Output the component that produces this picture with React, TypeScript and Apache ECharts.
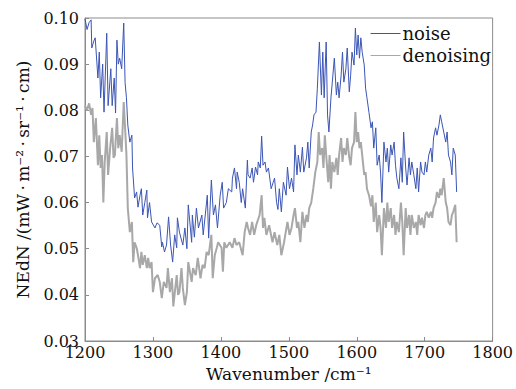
import React, { useEffect, useRef } from "react";
import * as echarts from "echarts";

const noiseX = [1200,1203,1206,1209,1210,1213,1215,1219,1221,1223,1226,1228,1232,1234,1238,1240,1243,1245,1247,1249,1251,1254,1257,1259,1261,1263,1266,1269,1270,1273,1276,1278,1281,1283,1285,1288,1291,1292,1295,1298,1303,1306,1310,1313,1314,1317,1320,1323,1326,1329,1332,1335,1336,1339,1344,1347,1350,1352,1357,1358,1361,1364,1367,1372,1374,1377,1380,1382,1386,1389,1392,1395,1399,1402,1404,1408,1411,1416,1417,1420,1423,1424,1427,1430,1432,1436,1439,1440,1443,1446,1448,1451,1454,1455,1458,1460,1462,1465,1467,1470,1474,1477,1479,1482,1484,1486,1489,1492,1496,1498,1501,1504,1507,1509,1512,1514,1517,1520,1522,1526,1528,1530,1533,1535,1537,1540,1542,1545,1548,1550,1552,1555,1557,1559,1562,1564,1567,1570,1572,1574,1577,1579,1581,1584,1586,1589,1591,1593,1596,1598,1600,1602,1604,1606,1608,1611,1613,1615,1618,1621,1623,1625,1628,1630,1633,1635,1637,1640,1643,1645,1647,1650,1652,1655,1657,1659,1662,1665,1667,1669,1672,1674,1677,1679,1681,1684,1687,1689,1691,1694,1696,1699,1701,1703,1706,1709,1711,1713,1716,1718,1721,1723,1725,1728,1731,1733,1735,1738,1740,1742,1745,1747];
const noiseY = [0.0998,0.0975,0.0990,0.0996,0.0935,0.0950,0.0957,0.0870,0.0926,0.0827,0.0900,0.0796,0.0967,0.0810,0.0890,0.0810,0.0870,0.0794,0.0952,0.0900,0.0913,0.0890,0.0989,0.0860,0.0827,0.0768,0.0731,0.0746,0.0675,0.0610,0.0623,0.0590,0.0616,0.0630,0.0573,0.0600,0.0627,0.0567,0.0600,0.0558,0.0545,0.0556,0.0551,0.0504,0.0514,0.0493,0.0508,0.0569,0.0508,0.0471,0.0530,0.0502,0.0567,0.0536,0.0508,0.0545,0.0500,0.0595,0.0514,0.0573,0.0525,0.0588,0.0545,0.0573,0.0530,0.0573,0.0616,0.0523,0.0649,0.0573,0.0595,0.0545,0.0616,0.0644,0.0588,0.0600,0.0630,0.0623,0.0653,0.0675,0.0630,0.0666,0.0644,0.0600,0.0630,0.0588,0.0692,0.0660,0.0653,0.0675,0.0644,0.0677,0.0660,0.0688,0.0675,0.0744,0.0681,0.0688,0.0666,0.0675,0.0630,0.0644,0.0653,0.0600,0.0585,0.0630,0.0580,0.0644,0.0616,0.0677,0.0630,0.0653,0.0623,0.0725,0.0660,0.0703,0.0666,0.0720,0.0666,0.0697,0.0731,0.0675,0.0753,0.0768,0.0790,0.0796,0.0848,0.0948,0.0833,0.0926,0.0827,0.0948,0.0790,0.0753,0.0827,0.0861,0.0913,0.0833,0.0861,0.0827,0.0876,0.0926,0.0861,0.0890,0.0935,0.0840,0.0876,0.0926,0.0898,0.0978,0.0920,0.0963,0.0913,0.0957,0.0926,0.0898,0.0848,0.0827,0.0795,0.0762,0.0775,0.0718,0.0762,0.0681,0.0703,0.0666,0.0600,0.0731,0.0688,0.0718,0.0666,0.0725,0.0703,0.0731,0.0681,0.0653,0.0630,0.0697,0.0644,0.0753,0.0675,0.0638,0.0697,0.0660,0.0688,0.0660,0.0630,0.0675,0.0623,0.0688,0.0666,0.0660,0.0688,0.0666,0.0703,0.0718,0.0688,0.0740,0.0762,0.0746,0.0768,0.0790,0.0775,0.0753,0.0731,0.0753,0.0703,0.0688,0.0660,0.0718,0.0703,0.0623];

const denoX = [1200,1203,1206,1209,1211,1213,1216,1219,1221,1223,1225,1227,1229,1232,1234,1237,1240,1242,1244,1247,1249,1251,1254,1257,1259,1261,1263,1266,1269,1271,1273,1276,1278,1281,1283,1285,1288,1291,1293,1295,1298,1300,1303,1307,1310,1313,1316,1320,1322,1325,1328,1330,1335,1337,1339,1342,1344,1347,1350,1352,1357,1359,1363,1366,1370,1373,1376,1379,1382,1386,1388,1391,1394,1396,1401,1403,1405,1408,1413,1417,1420,1423,1427,1432,1435,1438,1440,1443,1446,1449,1452,1457,1460,1462,1464,1467,1471,1476,1479,1483,1486,1489,1493,1498,1501,1504,1507,1509,1512,1514,1517,1520,1523,1526,1528,1530,1533,1536,1539,1542,1544,1546,1549,1551,1553,1555,1558,1560,1562,1564,1567,1570,1572,1574,1577,1579,1581,1584,1586,1589,1591,1593,1596,1598,1600,1602,1604,1606,1608,1611,1613,1615,1618,1621,1623,1625,1628,1630,1633,1635,1637,1640,1643,1645,1647,1650,1652,1655,1657,1659,1662,1665,1667,1669,1672,1674,1677,1679,1681,1684,1687,1689,1691,1694,1696,1699,1701,1703,1706,1709,1711,1713,1716,1718,1721,1723,1725,1728,1731,1733,1735,1738,1740,1742,1745,1747];
const denoY = [0.0810,0.0800,0.0815,0.0790,0.0805,0.0731,0.0783,0.0681,0.0746,0.0675,0.0703,0.0600,0.0688,0.0753,0.0660,0.0718,0.0762,0.0697,0.0703,0.0783,0.0718,0.0746,0.0710,0.0818,0.0762,0.0703,0.0588,0.0536,0.0558,0.0471,0.0514,0.0502,0.0486,0.0458,0.0493,0.0465,0.0486,0.0458,0.0480,0.0458,0.0471,0.0406,0.0436,0.0443,0.0428,0.0393,0.0428,0.0415,0.0458,0.0406,0.0436,0.0375,0.0443,0.0400,0.0406,0.0458,0.0415,0.0378,0.0406,0.0471,0.0428,0.0458,0.0443,0.0480,0.0436,0.0465,0.0458,0.0493,0.0486,0.0530,0.0436,0.0486,0.0502,0.0514,0.0502,0.0450,0.0514,0.0502,0.0514,0.0502,0.0523,0.0508,0.0514,0.0486,0.0536,0.0558,0.0545,0.0530,0.0558,0.0530,0.0551,0.0573,0.0616,0.0545,0.0567,0.0530,0.0551,0.0514,0.0536,0.0508,0.0530,0.0486,0.0514,0.0558,0.0530,0.0545,0.0573,0.0588,0.0545,0.0558,0.0514,0.0580,0.0545,0.0573,0.0558,0.0588,0.0600,0.0630,0.0666,0.0688,0.0753,0.0703,0.0718,0.0675,0.0746,0.0703,0.0644,0.0703,0.0630,0.0688,0.0666,0.0697,0.0660,0.0703,0.0740,0.0688,0.0718,0.0703,0.0740,0.0697,0.0681,0.0718,0.0731,0.0796,0.0731,0.0753,0.0718,0.0731,0.0703,0.0660,0.0666,0.0630,0.0616,0.0592,0.0616,0.0558,0.0600,0.0536,0.0573,0.0545,0.0486,0.0588,0.0545,0.0600,0.0558,0.0588,0.0545,0.0573,0.0530,0.0558,0.0536,0.0600,0.0558,0.0486,0.0588,0.0545,0.0573,0.0530,0.0573,0.0545,0.0558,0.0530,0.0573,0.0551,0.0567,0.0545,0.0573,0.0580,0.0567,0.0580,0.0567,0.0588,0.0600,0.0623,0.0610,0.0630,0.0616,0.0653,0.0600,0.0588,0.0558,0.0551,0.0573,0.0580,0.0595,0.0514];

const xTicks = [1200, 1300, 1400, 1500, 1600, 1700, 1800];
const yTicks = [0.03, 0.04, 0.05, 0.06, 0.07, 0.08, 0.09, 0.10];

const FONT = "DejaVu Serif";
const FRAME = "#8c8c8c";

export default function App() {
  const ref = useRef<HTMLDivElement>(null);
  useEffect(() => {
    if (!ref.current) return;
    document.body.style.margin = "0";
    const chart = echarts.init(ref.current, undefined, { renderer: "svg" });
    const noise = noiseX.map((x, i) => [x, noiseY[i]]);
    const deno = denoX.map((x, i) => [x, denoY[i]]);
    chart.setOption({
      animation: false,
      backgroundColor: "#ffffff",
      textStyle: { fontFamily: FONT },
      grid: {
        left: 85,
        right: 22,
        top: 18,
        bottom: 48,
        show: true,
        borderColor: FRAME,
        borderWidth: 1,
        backgroundColor: "transparent",
      },
      legend: {
        orient: "vertical",
        right: 25,
        top: 23,
        padding: 0,
        itemWidth: 30,
        itemHeight: 14,
        itemGap: 1,
        icon: "path://M0,7 L30,7 L30,8 L0,8 Z",
        textStyle: {
          fontFamily: FONT,
          fontSize: 18,
          lineHeight: 21,
          color: "#111",
          padding: [0, 0, 0, -3],
        },
        data: [
          { name: "noise", itemStyle: { color: "#3b55b5" } },
          { name: "denoising", itemStyle: { color: "#a8a8a8" } },
        ],
      },
      xAxis: {
        type: "value",
        min: xTicks[0],
        max: xTicks[xTicks.length - 1],
        interval: 100,
        name: "Wavenumber /cm\u207B\u00B9",
        nameLocation: "middle",
        nameGap: 24,
        nameTextStyle: { fontFamily: FONT, fontSize: 17, color: "#111", verticalAlign: "top" },
        axisLine: { show: true, lineStyle: { color: FRAME, width: 1 } },
        axisTick: { show: true, inside: true, length: 4, lineStyle: { color: FRAME } },
        axisLabel: {
          fontFamily: FONT,
          fontSize: 16,
          color: "#111",
          margin: 3,
          formatter: (v: number) => String(v),
        },
        splitLine: { show: false },
      },
      yAxis: {
        type: "value",
        min: yTicks[0],
        max: yTicks[yTicks.length - 1],
        interval: 0.01,
        name: "NEdN /(mW\u2009\u00B7\u2009m\u207B\u00B2\u2009\u00B7\u2009sr\u207B\u00B9\u2009\u00B7\u2009cm)",
        nameLocation: "middle",
        nameGap: 62,
        nameRotate: 90,
        nameTextStyle: { fontFamily: FONT, fontSize: 17, color: "#111", verticalAlign: "middle" },
        axisLine: { show: true, lineStyle: { color: FRAME, width: 1 } },
        axisTick: { show: true, inside: true, length: 4, lineStyle: { color: FRAME } },
        axisLabel: {
          fontFamily: FONT,
          fontSize: 16,
          color: "#111",
          margin: 6,
          padding: [4, 0, 0, 0],
          formatter: (v: number) => v.toFixed(2),
        },
        splitLine: { show: false },
      },
      series: [
        {
          name: "noise",
          type: "line",
          data: noise,
          symbol: "none",
          lineStyle: { color: "#3b55b5", width: 1 },
          itemStyle: { color: "#3b55b5" },
          z: 3,
        },
        {
          name: "denoising",
          type: "line",
          data: deno,
          symbol: "none",
          lineStyle: { color: "#a8a8a8", width: 2 },
          itemStyle: { color: "#a8a8a8" },
          z: 2,
        },
      ],
    });
    return () => chart.dispose();
  }, []);
  return <div ref={ref} style={{ width: 516, height: 389 }} />;
}
